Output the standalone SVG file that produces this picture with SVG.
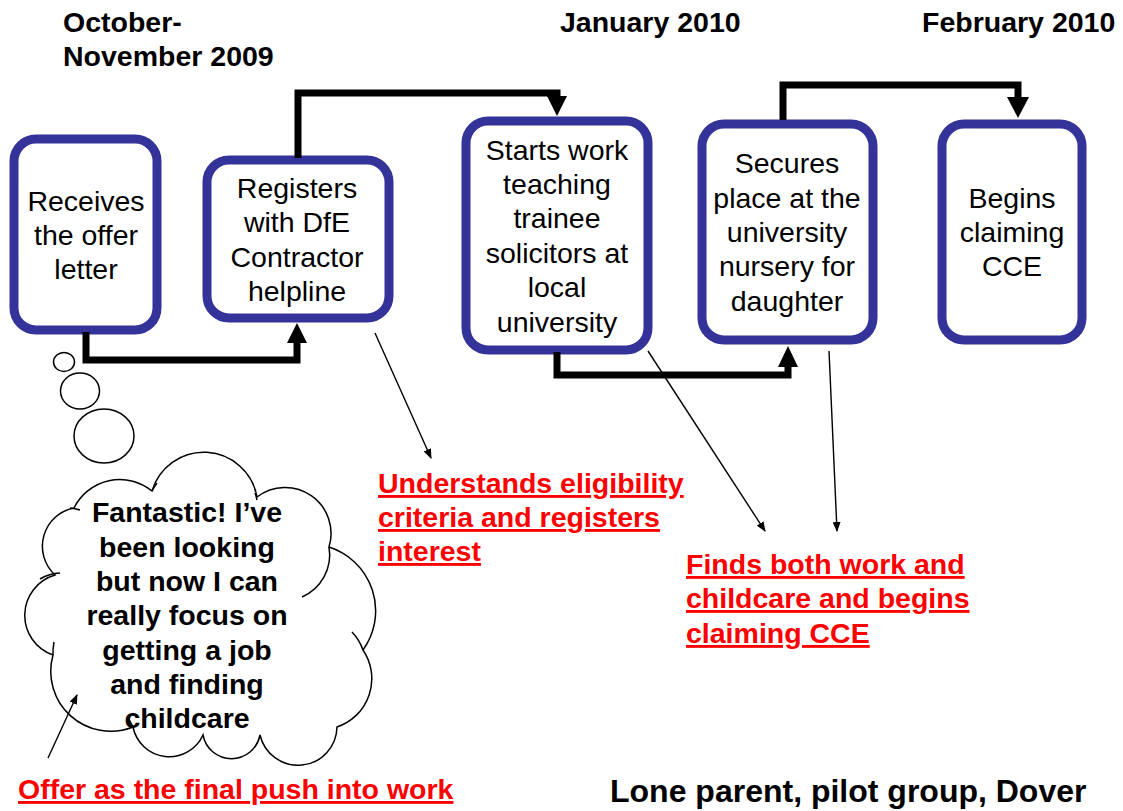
<svg xmlns="http://www.w3.org/2000/svg" width="1123" height="811" viewBox="0 0 1123 811">
<defs>
<style>
.box{fill:#fff;stroke:#333399;stroke-width:9}
.nt{font-family:"Liberation Sans",Arial,sans-serif;font-size:28.5px;fill:#000;text-anchor:middle}
.hd{font-family:"Liberation Sans",Arial,sans-serif;font-size:28.5px;font-weight:bold;fill:#000}
.red{font-family:"Liberation Sans",Arial,sans-serif;font-size:28.5px;font-weight:bold;fill:#ff0000;text-decoration:underline;text-decoration-thickness:3px}
.thick{fill:none;stroke:#000;stroke-width:7;stroke-linejoin:miter}
.thin{fill:none;stroke:#000;stroke-width:1.4}
.cl{fill:#fff;stroke:#000;stroke-width:1.5}
.cr{fill:none;stroke:#000;stroke-width:1.5}
</style>
<marker id="ah" markerWidth="10" markerHeight="8" refX="9" refY="4" orient="auto" markerUnits="userSpaceOnUse">
<path d="M0,0 L10,4 L0,8 Z" fill="#000"/>
</marker>
</defs>
<rect width="1123" height="811" fill="#fff"/>

<g id="headers">
<text class="hd" x="63" y="32">October-</text>
<text class="hd" x="63" y="66">November 2009</text>
<text class="hd" x="560" y="32">January 2010</text>
<text class="hd" x="922" y="32">February 2010</text>
</g>

<g id="node-receives">
<rect class="box" x="14" y="139" width="143" height="191" rx="22"/>
<text class="nt" x="86" y="211">Receives</text>
<text class="nt" x="86" y="245">the offer</text>
<text class="nt" x="86" y="279">letter</text>
</g>

<g id="node-registers">
<rect class="box" x="207" y="160" width="182" height="158" rx="22"/>
<text class="nt" x="297" y="198">Registers</text>
<text class="nt" x="297" y="232">with DfE</text>
<text class="nt" x="297" y="267">Contractor</text>
<text class="nt" x="297" y="301">helpline</text>
</g>

<g id="node-starts">
<rect class="box" x="466" y="121" width="182" height="229" rx="22"/>
<text class="nt" x="557" y="160">Starts work</text>
<text class="nt" x="557" y="194">teaching</text>
<text class="nt" x="557" y="228">trainee</text>
<text class="nt" x="557" y="263">solicitors at</text>
<text class="nt" x="557" y="297">local</text>
<text class="nt" x="557" y="332">university</text>
</g>

<g id="node-secures">
<rect class="box" x="702" y="124" width="171" height="216" rx="22"/>
<text class="nt" x="787" y="173">Secures</text>
<text class="nt" x="787" y="208">place at the</text>
<text class="nt" x="787" y="242">university</text>
<text class="nt" x="787" y="276">nursery for</text>
<text class="nt" x="787" y="311">daughter</text>
</g>

<g id="node-begins">
<rect class="box" x="942" y="124" width="140" height="216" rx="22"/>
<text class="nt" x="1012" y="208">Begins</text>
<text class="nt" x="1012" y="242">claiming</text>
<text class="nt" x="1012" y="276">CCE</text>
</g>

<g id="thought-cloud">
<ellipse class="cl" cx="64" cy="362" rx="10.5" ry="9.5"/>
<ellipse class="cl" cx="80" cy="391" rx="19.5" ry="18"/>
<ellipse class="cl" cx="104" cy="436" rx="30" ry="27"/>
<path class="cl" d="M152,491 A54,54 0 0 1 257,497 A46,46 0 0 1 329,547 A67,67 0 0 1 363,650 A51,51 0 0 1 337,727 A39,39 0 0 1 260,735 A29,29 0 0 1 203,735 A37,37 0 0 1 133,727 A60,60 0 0 1 53,655 A42,42 0 0 1 55,575 A39,39 0 0 1 74,508 A51,51 0 0 1 152,491 Z"/>
<path class="cr" d="M329,547 A46,46 0 0 1 302,597"/>
<path class="cr" d="M352,632 A51,51 0 0 1 363,650"/>
<path class="cr" d="M133,727 A37,37 0 0 1 128,716"/>
<path class="cr" d="M53,655 A60,60 0 0 1 54,642"/>
<path class="cr" d="M40,579 A42,42 0 0 1 60,573"/>
<path class="cr" d="M70,508 A39,39 0 0 1 80,510"/>
<path class="cr" d="M152,491 A54,54 0 0 1 157,483"/>
<path class="cr" d="M255,493 A46,46 0 0 1 257,500"/>
<text class="hd" text-anchor="middle" x="187" y="522">Fantastic! I’ve</text>
<text class="hd" text-anchor="middle" x="187" y="557">been looking</text>
<text class="hd" text-anchor="middle" x="187" y="591">but now I can</text>
<text class="hd" text-anchor="middle" x="187" y="625">really focus on</text>
<text class="hd" text-anchor="middle" x="187" y="660">getting a job</text>
<text class="hd" text-anchor="middle" x="187" y="694">and finding</text>
<text class="hd" text-anchor="middle" x="187" y="728">childcare</text>
</g>

<g id="connectors">
<path class="thick" d="M86,332 V360 H297 V340"/>
<path d="M287,343 L297,323 L307,343 Z" fill="#000"/>
<path class="thick" d="M298,158 V93 H557 V100"/>
<path d="M547,96 L557,116 L567,96 Z" fill="#000"/>
<path class="thick" d="M557,352 V375 H788 V362"/>
<path d="M778,367 L788,346 L798,367 Z" fill="#000"/>
<path class="thick" d="M783,120 V85 H1018 V100"/>
<path d="M1007,97 L1018,118 L1029,97 Z" fill="#000"/>
<line class="thin" x1="375" y1="333" x2="431" y2="458" marker-end="url(#ah)"/>
<line class="thin" x1="648" y1="351" x2="765" y2="531" marker-end="url(#ah)"/>
<line class="thin" x1="829" y1="351" x2="837" y2="531" marker-end="url(#ah)"/>
<line class="thin" x1="48" y1="758" x2="77" y2="695" marker-end="url(#ah)"/>
</g>

<g id="label-eligibility">
<text class="red" x="378" y="493">Understands eligibility</text>
<text class="red" x="378" y="527">criteria and registers</text>
<text class="red" x="378" y="561">interest</text>
</g>

<g id="label-finds">
<text class="red" x="686" y="574">Finds both work and</text>
<text class="red" x="686" y="608">childcare and begins</text>
<text class="red" x="686" y="643">claiming CCE</text>
</g>

<g id="label-offer">
<text class="red" x="18" y="799">Offer as the final push into work</text>
</g>

<g id="caption">
<text class="hd" x="610" y="802" style="font-size:32px">Lone parent, pilot group, Dover</text>
</g>
</svg>
